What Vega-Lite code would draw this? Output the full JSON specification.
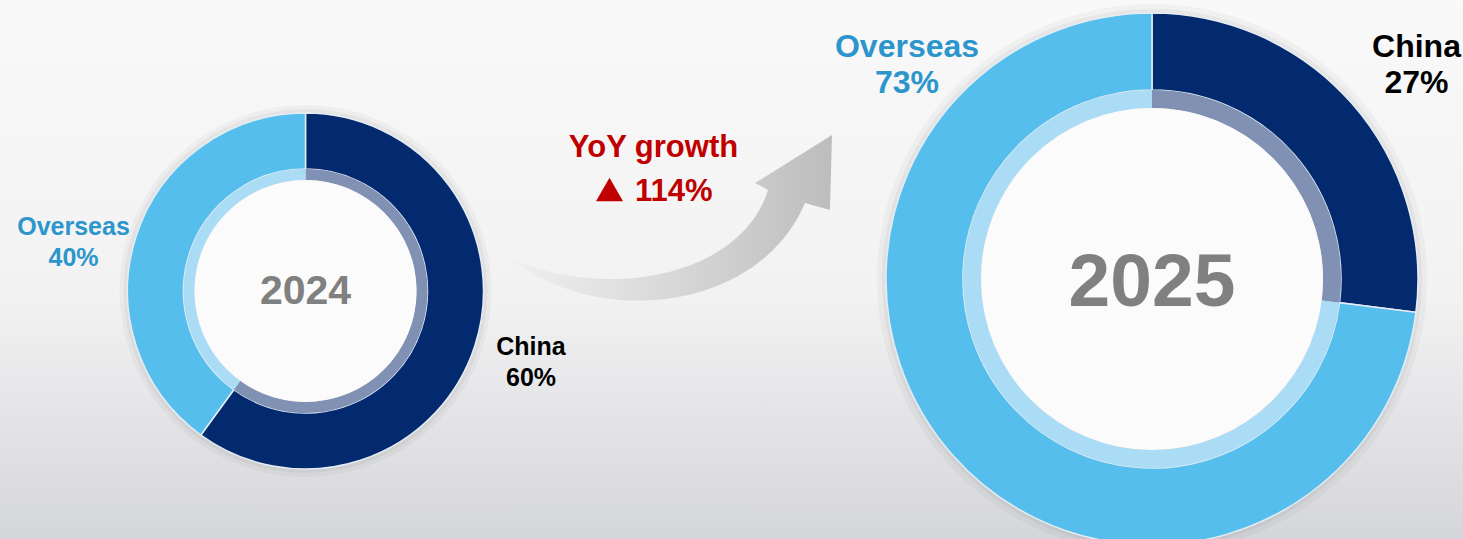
{
  "$schema": "https://vega.github.io/schema/vega-lite/v6.json",
  "width": 1463,
  "height": 539,
  "padding": 0,
  "autosize": {"type": "none"},
  "view": {
    "stroke": null,
    "fill": {"gradient": "linear", "x1": 0, "y1": 0, "x2": 0, "y2": 1,
      "stops": [{"offset": 0, "color": "#F9F9FA"}, {"offset": 0.55, "color": "#F2F2F3"}, {"offset": 1, "color": "#D5D6D9"}]}
  },
  "config": {"text": {"font": "Liberation Sans", "fontWeight": "bold"}},
  "datasets": {
    "share": [
      {"year": "2024", "region": "China", "share": 0.60},
      {"year": "2024", "region": "Overseas", "share": 0.40},
      {"year": "2025", "region": "China", "share": 0.27},
      {"year": "2025", "region": "Overseas", "share": 0.73}
    ],
    "growth": [
      {"year": "2024", "to": "2025", "label": "YoY growth", "growth": 1.14}
    ]
  },
  "resolve": {"scale": {"color": "independent"}},
  "layer": [
    {
      "data": {"name": "share"},
      "transform": [{"filter": "datum.region=='China' && datum.year=='2024'"}],
      "mark": {"type": "arc", "radius": 186, "radius2": 0, "theta": 0, "theta2": 6.2832, "fill": "#000000", "fillOpacity": 0.03},
      "encoding": {
        "x": {"field": "year", "type": "nominal", "scale": {"type": "point", "domain": ["2024", "2025"], "range": [305.5, 1152], "padding": 0}, "axis": null},
        "y": {"field": "year", "type": "nominal", "scale": {"type": "point", "domain": ["2024", "2025"], "range": [291, 279], "padding": 0}, "axis": null}
      }
    },
    {
      "data": {"name": "share"},
      "transform": [{"filter": "datum.region=='China' && datum.year=='2024'"}],
      "mark": {"type": "arc", "radius": 182, "radius2": 0, "theta": 0, "theta2": 6.2832, "fill": "#000000", "fillOpacity": 0.04},
      "encoding": {
        "x": {"field": "year", "type": "nominal", "scale": {"type": "point", "domain": ["2024", "2025"], "range": [305.5, 1152], "padding": 0}, "axis": null},
        "y": {"field": "year", "type": "nominal", "scale": {"type": "point", "domain": ["2024", "2025"], "range": [291, 279], "padding": 0}, "axis": null}
      }
    },
    {
      "data": {"name": "share"},
      "transform": [{"filter": "datum.region=='China' && datum.year=='2025'"}],
      "mark": {"type": "arc", "radius": 275, "radius2": 0, "theta": 0, "theta2": 6.2832, "fill": "#000000", "fillOpacity": 0.03},
      "encoding": {
        "x": {"field": "year", "type": "nominal", "scale": {"type": "point", "domain": ["2024", "2025"], "range": [305.5, 1152], "padding": 0}, "axis": null},
        "y": {"field": "year", "type": "nominal", "scale": {"type": "point", "domain": ["2024", "2025"], "range": [291, 279], "padding": 0}, "axis": null}
      }
    },
    {
      "data": {"name": "share"},
      "transform": [{"filter": "datum.region=='China' && datum.year=='2025'"}],
      "mark": {"type": "arc", "radius": 270, "radius2": 0, "theta": 0, "theta2": 6.2832, "fill": "#000000", "fillOpacity": 0.04},
      "encoding": {
        "x": {"field": "year", "type": "nominal", "scale": {"type": "point", "domain": ["2024", "2025"], "range": [305.5, 1152], "padding": 0}, "axis": null},
        "y": {"field": "year", "type": "nominal", "scale": {"type": "point", "domain": ["2024", "2025"], "range": [291, 279], "padding": 0}, "axis": null}
      }
    },
    {
      "data": {"name": "share"},
      "transform": [{"filter": "datum.year=='2024'"}],
      "mark": {"type": "arc", "radius": 178, "radius2": 122, "stroke": "#E4ECF4", "strokeWidth": 1.5},
      "encoding": {
        "x": {"field": "year", "type": "nominal", "scale": {"type": "point", "domain": ["2024", "2025"], "range": [305.5, 1152], "padding": 0}, "axis": null},
        "y": {"field": "year", "type": "nominal", "scale": {"type": "point", "domain": ["2024", "2025"], "range": [291, 279], "padding": 0}, "axis": null},
        "theta": {"field": "share", "type": "quantitative", "stack": true, "scale": {"domain": [0, 1]}},
        "color": {"field": "region", "type": "nominal", "scale": {"domain": ["China", "Overseas"], "range": ["#03296F", "#56BEEC"]}, "legend": null}
      }
    },
    {
      "data": {"name": "share"},
      "transform": [{"filter": "datum.year=='2024'"}],
      "mark": {"type": "arc", "radius": 122, "radius2": 111},
      "encoding": {
        "x": {"field": "year", "type": "nominal", "scale": {"type": "point", "domain": ["2024", "2025"], "range": [305.5, 1152], "padding": 0}, "axis": null},
        "y": {"field": "year", "type": "nominal", "scale": {"type": "point", "domain": ["2024", "2025"], "range": [291, 279], "padding": 0}, "axis": null},
        "theta": {"field": "share", "type": "quantitative", "stack": true, "scale": {"domain": [0, 1]}},
        "color": {"field": "region", "type": "nominal", "scale": {"domain": ["China", "Overseas"], "range": ["#8091B4", "#AADDF5"]}, "legend": null}
      }
    },
    {
      "data": {"name": "share"},
      "transform": [{"filter": "datum.year=='2025'"}],
      "mark": {"type": "arc", "radius": 266, "radius2": 189, "stroke": "#E4ECF4", "strokeWidth": 1.5},
      "encoding": {
        "x": {"field": "year", "type": "nominal", "scale": {"type": "point", "domain": ["2024", "2025"], "range": [305.5, 1152], "padding": 0}, "axis": null},
        "y": {"field": "year", "type": "nominal", "scale": {"type": "point", "domain": ["2024", "2025"], "range": [291, 279], "padding": 0}, "axis": null},
        "theta": {"field": "share", "type": "quantitative", "stack": true, "scale": {"domain": [0, 1]}},
        "color": {"field": "region", "type": "nominal", "scale": {"domain": ["China", "Overseas"], "range": ["#03296F", "#56BEEC"]}, "legend": null}
      }
    },
    {
      "data": {"name": "share"},
      "transform": [{"filter": "datum.year=='2025'"}],
      "mark": {"type": "arc", "radius": 189, "radius2": 171},
      "encoding": {
        "x": {"field": "year", "type": "nominal", "scale": {"type": "point", "domain": ["2024", "2025"], "range": [305.5, 1152], "padding": 0}, "axis": null},
        "y": {"field": "year", "type": "nominal", "scale": {"type": "point", "domain": ["2024", "2025"], "range": [291, 279], "padding": 0}, "axis": null},
        "theta": {"field": "share", "type": "quantitative", "stack": true, "scale": {"domain": [0, 1]}},
        "color": {"field": "region", "type": "nominal", "scale": {"domain": ["China", "Overseas"], "range": ["#8091B4", "#AADDF5"]}, "legend": null}
      }
    },
    {
      "data": {"name": "share"},
      "transform": [{"filter": "datum.region=='China' && datum.year=='2024'"}],
      "mark": {"type": "arc", "radius": 111, "radius2": 0, "theta": 0, "theta2": 6.2832, "fill": "#FBFBFB"},
      "encoding": {
        "x": {"field": "year", "type": "nominal", "scale": {"type": "point", "domain": ["2024", "2025"], "range": [305.5, 1152], "padding": 0}, "axis": null},
        "y": {"field": "year", "type": "nominal", "scale": {"type": "point", "domain": ["2024", "2025"], "range": [291, 279], "padding": 0}, "axis": null}
      }
    },
    {
      "data": {"name": "share"},
      "transform": [{"filter": "datum.region=='China' && datum.year=='2025'"}],
      "mark": {"type": "arc", "radius": 171, "radius2": 0, "theta": 0, "theta2": 6.2832, "fill": "#FBFBFB"},
      "encoding": {
        "x": {"field": "year", "type": "nominal", "scale": {"type": "point", "domain": ["2024", "2025"], "range": [305.5, 1152], "padding": 0}, "axis": null},
        "y": {"field": "year", "type": "nominal", "scale": {"type": "point", "domain": ["2024", "2025"], "range": [291, 279], "padding": 0}, "axis": null}
      }
    },
    {
      "data": {"name": "share"},
      "transform": [{"filter": "datum.region=='China' && datum.year=='2024'"}],
      "mark": {"type": "text", "align": "center", "baseline": "alphabetic", "dy": 13, "fontSize": 41, "color": "#808080"},
      "encoding": {
        "x": {"field": "year", "type": "nominal", "scale": {"type": "point", "domain": ["2024", "2025"], "range": [305.5, 1152], "padding": 0}, "axis": null},
        "y": {"field": "year", "type": "nominal", "scale": {"type": "point", "domain": ["2024", "2025"], "range": [291, 279], "padding": 0}, "axis": null},
        "text": {"field": "year"}
      }
    },
    {
      "data": {"name": "share"},
      "transform": [{"filter": "datum.region=='China' && datum.year=='2025'"}],
      "mark": {"type": "text", "align": "center", "baseline": "alphabetic", "dy": 27, "fontSize": 75, "color": "#808080"},
      "encoding": {
        "x": {"field": "year", "type": "nominal", "scale": {"type": "point", "domain": ["2024", "2025"], "range": [305.5, 1152], "padding": 0}, "axis": null},
        "y": {"field": "year", "type": "nominal", "scale": {"type": "point", "domain": ["2024", "2025"], "range": [291, 279], "padding": 0}, "axis": null},
        "text": {"field": "year"}
      }
    },
    {
      "data": {"name": "share"},
      "transform": [{"filter": "datum.region=='Overseas' && datum.year=='2024'"}],
      "mark": {"type": "text", "align": "center", "baseline": "alphabetic", "dx": -232, "dy": -56, "fontSize": 25, "color": "#2B95CC"},
      "encoding": {
        "x": {"field": "year", "type": "nominal", "scale": {"type": "point", "domain": ["2024", "2025"], "range": [305.5, 1152], "padding": 0}, "axis": null},
        "y": {"field": "year", "type": "nominal", "scale": {"type": "point", "domain": ["2024", "2025"], "range": [291, 279], "padding": 0}, "axis": null},
        "text": {"field": "region"}
      }
    },
    {
      "data": {"name": "share"},
      "transform": [{"filter": "datum.region=='Overseas' && datum.year=='2024'"}],
      "mark": {"type": "text", "align": "center", "baseline": "alphabetic", "dx": -232, "dy": -25, "fontSize": 25, "color": "#2B95CC"},
      "encoding": {
        "x": {"field": "year", "type": "nominal", "scale": {"type": "point", "domain": ["2024", "2025"], "range": [305.5, 1152], "padding": 0}, "axis": null},
        "y": {"field": "year", "type": "nominal", "scale": {"type": "point", "domain": ["2024", "2025"], "range": [291, 279], "padding": 0}, "axis": null},
        "text": {"field": "share", "type": "quantitative", "format": ".0%"}
      }
    },
    {
      "data": {"name": "share"},
      "transform": [{"filter": "datum.region=='China' && datum.year=='2024'"}],
      "mark": {"type": "text", "align": "center", "baseline": "alphabetic", "dx": 225.5, "dy": 64, "fontSize": 25, "color": "#000000"},
      "encoding": {
        "x": {"field": "year", "type": "nominal", "scale": {"type": "point", "domain": ["2024", "2025"], "range": [305.5, 1152], "padding": 0}, "axis": null},
        "y": {"field": "year", "type": "nominal", "scale": {"type": "point", "domain": ["2024", "2025"], "range": [291, 279], "padding": 0}, "axis": null},
        "text": {"field": "region"}
      }
    },
    {
      "data": {"name": "share"},
      "transform": [{"filter": "datum.region=='China' && datum.year=='2024'"}],
      "mark": {"type": "text", "align": "center", "baseline": "alphabetic", "dx": 225.5, "dy": 95, "fontSize": 25, "color": "#000000"},
      "encoding": {
        "x": {"field": "year", "type": "nominal", "scale": {"type": "point", "domain": ["2024", "2025"], "range": [305.5, 1152], "padding": 0}, "axis": null},
        "y": {"field": "year", "type": "nominal", "scale": {"type": "point", "domain": ["2024", "2025"], "range": [291, 279], "padding": 0}, "axis": null},
        "text": {"field": "share", "type": "quantitative", "format": ".0%"}
      }
    },
    {
      "data": {"name": "share"},
      "transform": [{"filter": "datum.region=='Overseas' && datum.year=='2025'"}],
      "mark": {"type": "text", "align": "center", "baseline": "alphabetic", "dx": -245, "dy": -222, "fontSize": 32, "color": "#2B95CC"},
      "encoding": {
        "x": {"field": "year", "type": "nominal", "scale": {"type": "point", "domain": ["2024", "2025"], "range": [305.5, 1152], "padding": 0}, "axis": null},
        "y": {"field": "year", "type": "nominal", "scale": {"type": "point", "domain": ["2024", "2025"], "range": [291, 279], "padding": 0}, "axis": null},
        "text": {"field": "region"}
      }
    },
    {
      "data": {"name": "share"},
      "transform": [{"filter": "datum.region=='Overseas' && datum.year=='2025'"}],
      "mark": {"type": "text", "align": "center", "baseline": "alphabetic", "dx": -245, "dy": -186, "fontSize": 32, "color": "#2B95CC"},
      "encoding": {
        "x": {"field": "year", "type": "nominal", "scale": {"type": "point", "domain": ["2024", "2025"], "range": [305.5, 1152], "padding": 0}, "axis": null},
        "y": {"field": "year", "type": "nominal", "scale": {"type": "point", "domain": ["2024", "2025"], "range": [291, 279], "padding": 0}, "axis": null},
        "text": {"field": "share", "type": "quantitative", "format": ".0%"}
      }
    },
    {
      "data": {"name": "share"},
      "transform": [{"filter": "datum.region=='China' && datum.year=='2025'"}],
      "mark": {"type": "text", "align": "center", "baseline": "alphabetic", "dx": 264.5, "dy": -222, "fontSize": 32, "color": "#000000"},
      "encoding": {
        "x": {"field": "year", "type": "nominal", "scale": {"type": "point", "domain": ["2024", "2025"], "range": [305.5, 1152], "padding": 0}, "axis": null},
        "y": {"field": "year", "type": "nominal", "scale": {"type": "point", "domain": ["2024", "2025"], "range": [291, 279], "padding": 0}, "axis": null},
        "text": {"field": "region"}
      }
    },
    {
      "data": {"name": "share"},
      "transform": [{"filter": "datum.region=='China' && datum.year=='2025'"}],
      "mark": {"type": "text", "align": "center", "baseline": "alphabetic", "dx": 264.5, "dy": -186, "fontSize": 32, "color": "#000000"},
      "encoding": {
        "x": {"field": "year", "type": "nominal", "scale": {"type": "point", "domain": ["2024", "2025"], "range": [305.5, 1152], "padding": 0}, "axis": null},
        "y": {"field": "year", "type": "nominal", "scale": {"type": "point", "domain": ["2024", "2025"], "range": [291, 279], "padding": 0}, "axis": null},
        "text": {"field": "share", "type": "quantitative", "format": ".0%"}
      }
    },
    {
      "data": {"name": "growth"},
      "mark": {"type": "point", "shape": "M-0.947,0.244 C-0.418,0.491 0.406,0.374 0.571,-0.156 L0.494,-0.197 L0.947,-0.479 L0.935,-0.038 L0.788,-0.079 C0.524,0.550 -0.418,0.668 -0.947,0.244 Z", "size": 115600, "filled": true, "opacity": 1, "strokeWidth": 0, "xOffset": 365.5, "yOffset": -74.5,
        "fill": {"gradient": "linear", "x1": 0, "y1": 0, "x2": 1, "y2": 0, "stops": [{"offset": 0, "color": "#F0F0F0"}, {"offset": 0.5, "color": "#D8D8D8"}, {"offset": 1, "color": "#BDBDBD"}]}},
      "encoding": {
        "x": {"field": "year", "type": "nominal", "scale": {"type": "point", "domain": ["2024", "2025"], "range": [305.5, 1152], "padding": 0}, "axis": null},
        "y": {"field": "year", "type": "nominal", "scale": {"type": "point", "domain": ["2024", "2025"], "range": [291, 279], "padding": 0}, "axis": null}
      }
    },
    {
      "data": {"name": "growth"},
      "mark": {"type": "text", "align": "center", "baseline": "alphabetic", "dx": 348, "dy": -134, "fontSize": 31, "color": "#C00000"},
      "encoding": {
        "x": {"field": "year", "type": "nominal", "scale": {"type": "point", "domain": ["2024", "2025"], "range": [305.5, 1152], "padding": 0}, "axis": null},
        "y": {"field": "year", "type": "nominal", "scale": {"type": "point", "domain": ["2024", "2025"], "range": [291, 279], "padding": 0}, "axis": null},
        "text": {"field": "label"}
      }
    },
    {
      "data": {"name": "growth"},
      "mark": {"type": "point", "shape": "triangle-up", "size": 729, "filled": true, "opacity": 1, "color": "#C00000", "xOffset": 304, "yOffset": -101.5},
      "encoding": {
        "x": {"field": "year", "type": "nominal", "scale": {"type": "point", "domain": ["2024", "2025"], "range": [305.5, 1152], "padding": 0}, "axis": null},
        "y": {"field": "year", "type": "nominal", "scale": {"type": "point", "domain": ["2024", "2025"], "range": [291, 279], "padding": 0}, "axis": null}
      }
    },
    {
      "data": {"name": "growth"},
      "mark": {"type": "text", "align": "left", "baseline": "alphabetic", "dx": 329.5, "dy": -90, "fontSize": 31, "color": "#C00000"},
      "encoding": {
        "x": {"field": "year", "type": "nominal", "scale": {"type": "point", "domain": ["2024", "2025"], "range": [305.5, 1152], "padding": 0}, "axis": null},
        "y": {"field": "year", "type": "nominal", "scale": {"type": "point", "domain": ["2024", "2025"], "range": [291, 279], "padding": 0}, "axis": null},
        "text": {"field": "growth", "type": "quantitative", "format": ".0%"}
      }
    }
  ]
}
